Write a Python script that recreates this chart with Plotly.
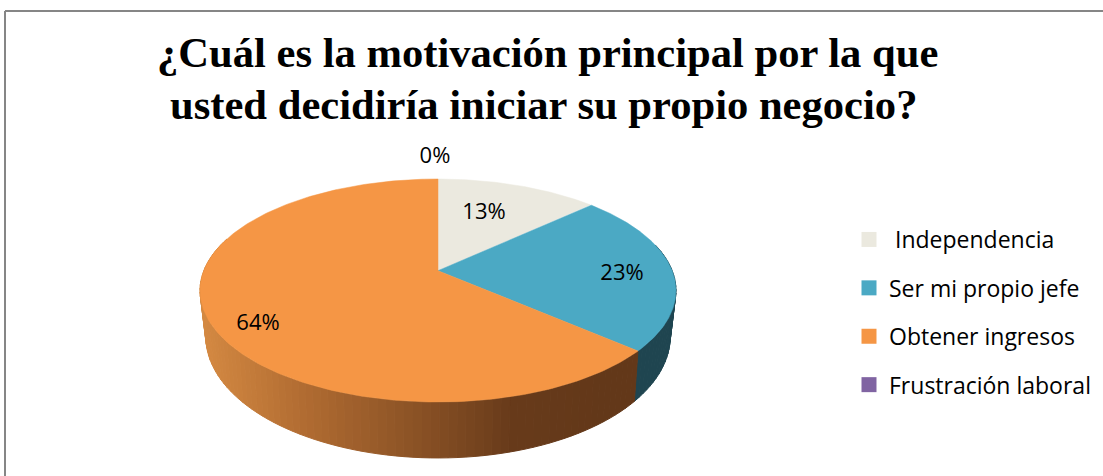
import numpy as np
import plotly.graph_objects as go

categories = ["\u00a0Independencia", "Ser mi propio jefe", "Obtener ingresos", "Frustración laboral"]
values = [13.0, 23.4, 63.6, 0.0]
labels = ["13%", "23%", "64%", "0%"]
top_colors = ["#EBE9DF", "#4BA9C4", "#F59645", "#8064A2"]
side_colors = ["#8c8a80", "#1F4550", None, "#4a3a60"]
title_lines = ["¿Cuál es la motivación principal por la que", "usted decidiría iniciar su propio negocio?"]

# layout geometry (page pixels via fixed axes)
W, H = 1103, 476
UP = dict(x0=438, y0=270.7, a=234.2, b=108.0, c=-0.1776)
LO = dict(x0=438, y0=313.7, a=228.0, b=117.0, c=-0.189)
LABEL_ANCHORS = [(484, 213), (622, 274), (258, 324), (435, 157)]
TITLE_ANCHORS = [(547, 52), (543, 104)]
ORANGE_STOPS_X = [205, 313, 413, 513, 613, 640]
ORANGE_STOPS_RGB = [(212, 137, 66), (174, 106, 49), (140, 83, 38), (104, 59, 27), (99, 56, 25), (99, 56, 25)]


def rim(frac, g):
    th = 2 * np.pi * np.asarray(frac)
    u, v = np.sin(th), -np.cos(th)
    d = 1 + g["c"] * v
    return g["x0"] + g["a"] * u / d, g["y0"] + g["b"] * v / d


cum = np.concatenate([[0], np.cumsum(values)]) / sum(values)
fig = go.Figure()


def side_quads(t0, t1, color_fn):
    n = max(2, int((t1 - t0) * 200))
    ts = np.linspace(t0, t1, n + 1)
    for a, b in zip(ts[:-1], ts[1:]):
        xu, yu = rim([a, b], UP)
        xl, yl = rim([a, b], LO)
        xs = [xu[0], xu[1], xl[1], xl[0], xu[0]]
        ys = [yu[0], yu[1], yl[1], yl[0], yu[0]]
        col = color_fn((xu[0] + xu[1] + xl[0] + xl[1]) / 4)
        fig.add_trace(go.Scatter(x=xs, y=ys, mode="lines", fill="toself", fillcolor=col,
                                 line=dict(color=col, width=1.0), showlegend=False, hoverinfo="skip"))


def orange(x):
    r = [np.interp(x, ORANGE_STOPS_X, [c[k] for c in ORANGE_STOPS_RGB]) for k in range(3)]
    return "rgb(%d,%d,%d)" % tuple(r)


# sides: blue then orange, extended only along the visible front half
side_quads(0.21, cum[2], lambda x: side_colors[1])
side_quads(cum[2], 0.80, orange)

# top faces
for i, val in enumerate(values):
    if val <= 0:
        continue
    ts = np.linspace(cum[i], cum[i + 1], 240)
    x, y = rim(ts, UP)
    xs = np.concatenate([[UP["x0"]], x, [UP["x0"]]])
    ys = np.concatenate([[UP["y0"]], y, [UP["y0"]]])
    fig.add_trace(go.Scatter(x=xs, y=ys, mode="lines", fill="toself", fillcolor=top_colors[i],
                             line=dict(color=top_colors[i], width=0.5), showlegend=False, hoverinfo="skip"))

# data labels
fig.add_trace(go.Scatter(x=[p[0] for p in LABEL_ANCHORS], y=[p[1] for p in LABEL_ANCHORS], mode="text",
                         text=labels, textfont=dict(family="Open Sans", size=22, color="#000000"),
                         showlegend=False, hoverinfo="skip"))

# legend entries
for i, name in enumerate(categories):
    fig.add_trace(go.Scatter(x=[None], y=[None], mode="markers", name=name, legendgroup=str(i),
                             marker=dict(symbol="square", size=15, color=top_colors[i])))

# chart border (open on right and bottom, as cropped)
fig.add_shape(type="line", x0=5, x1=5, y0=11, y1=H, line=dict(color="#868686", width=2))
fig.add_shape(type="line", x0=5, x1=W, y0=11, y1=11, line=dict(color="#868686", width=2))

for line, (tx, ty) in zip(title_lines, TITLE_ANCHORS):
    fig.add_annotation(text=line, x=tx, y=ty, xref="x", yref="y", xanchor="center", yanchor="middle",
                       showarrow=False,
                       font=dict(family="Liberation Serif", size=42.6, color="#000000", weight="bold"))

fig.update_layout(
    width=W, height=H, margin=dict(l=0, r=0, t=0, b=0), paper_bgcolor="white", plot_bgcolor="white",
    xaxis=dict(range=[0, W], visible=False, fixedrange=True),
    yaxis=dict(range=[H, 0], visible=False, fixedrange=True),
    legend=dict(x=849 / W, y=1 - 218 / H, xanchor="left", yanchor="top", bgcolor="rgba(0,0,0,0)",
                font=dict(family="Open Sans", size=23, color="#000000"), tracegroupgap=15.5,
                itemclick=False, itemdoubleclick=False),
)
fig.write_html("out.html", config={"displayModeBar": False},
               post_script="document.body.style.margin='0';document.documentElement.style.overflow='hidden';")
